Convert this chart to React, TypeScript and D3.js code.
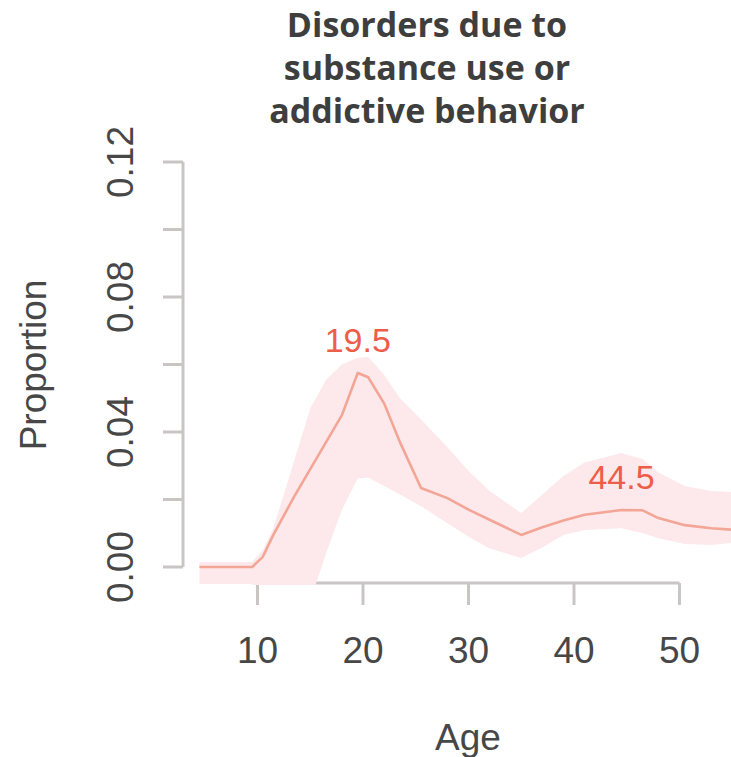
import React from "react";
import * as d3 from "d3";

const titleLines = ["Disorders due to", "substance use or", "addictive behavior"];
const xTicks = [10, 20, 30, 40, 50];
const yTicks = [0, 0.02, 0.04, 0.06, 0.08, 0.1, 0.12];
const yTickLabels = ["0.00", "", "0.04", "", "0.08", "", "0.12"];

const ages = [4.5, 9.5, 10.5, 11.5, 13.5, 15, 16.5, 18, 19.5, 20.5, 22, 23.5, 25.5, 28, 30, 32, 35, 37, 39, 41, 44.5, 46.5, 48, 50.5, 53, 56];
const meanVals = [0, 0, 0.003, 0.0095, 0.021, 0.029, 0.037, 0.045, 0.0575, 0.0562, 0.0485, 0.037, 0.0234, 0.0204, 0.017, 0.014, 0.0095, 0.0118, 0.0138, 0.0155, 0.0169, 0.0168, 0.0145, 0.0124, 0.0115, 0.0108];
const upperVals = [0.0015, 0.0015, 0.005, 0.0115, 0.0317, 0.047, 0.0555, 0.06, 0.062, 0.0622, 0.057, 0.05, 0.0437, 0.0355, 0.0285, 0.0225, 0.016, 0.0215, 0.027, 0.031, 0.0338, 0.032, 0.028, 0.024, 0.0225, 0.022];
const lowerVals = [-0.005, -0.005, -0.02, -0.03, -0.025, -0.01, 0.004, 0.017, 0.0262, 0.0265, 0.024, 0.0215, 0.018, 0.013, 0.009, 0.0055, 0.0027, 0.0058, 0.0095, 0.011, 0.0115, 0.01, 0.0085, 0.0068, 0.0065, 0.0075];
const peakAges = [19.5, 44.5];
const peakLabels = ["19.5", "44.5"];

const W = 731;
const H = 757;

export default function App() {
  const x = d3.scaleLinear().domain([10, 50]).range([257.5, 679.5]);
  const y = d3.scaleLinear().domain([0, 0.12]).range([567, 162]);
  const plotLeft = 183;
  const plotBottom = 585;

  const rows = ages.map((a, i) => ({ a, m: meanVals[i], lo: lowerVals[i], hi: upperVals[i] }));
  const area = d3
    .area<any>()
    .x((d) => x(d.a))
    .y0((d) => y(d.lo))
    .y1((d) => y(d.hi));
  const line = d3
    .line<any>()
    .x((d) => x(d.a))
    .y((d) => y(d.m));

  const axisColor = "#c9c5c5";
  const textColor = "#474747";
  const font = "'Liberation Sans', Arial, sans-serif";

  return (
    <svg
      width={W}
      height={H}
      style={{ position: "absolute", left: 0, top: 0, background: "#fff" }}
    >
      <defs>
        <clipPath id="plotclip">
          <rect x={plotLeft} y={130} width={W - plotLeft + 20} height={plotBottom - 130} />
        </clipPath>
      </defs>
      <rect x={0} y={0} width={W} height={H} fill="#fff" />
      {titleLines.map((t, i) => (
        <text
          key={t}
          x={427}
          y={37 + i * 43}
          textAnchor="middle"
          fontFamily="'Open Sans', sans-serif"
          fontWeight={700}
          fontSize={34}
          fill="#3e3e3e"
        >
          {t}
        </text>
      ))}
      {/* y axis */}
      <line x1={plotLeft} x2={plotLeft} y1={y(0.12)} y2={y(0)} stroke={axisColor} strokeWidth={3} />
      {yTicks.map((t, i) => (
        <g key={t}>
          <line x1={plotLeft - 20} x2={plotLeft} y1={y(t)} y2={y(t)} stroke={axisColor} strokeWidth={3} />
          {yTickLabels[i] && (
            <text
              transform={`translate(133,${y(t)}) rotate(-90)`}
              textAnchor="middle"
              fontFamily={font}
              fontSize={37}
              fill={textColor}
            >
              {yTickLabels[i]}
            </text>
          )}
        </g>
      ))}
      {/* x axis */}
      <line x1={x(10)} x2={x(50)} y1={583} y2={583} stroke={axisColor} strokeWidth={3} />
      {xTicks.map((t) => (
        <g key={t}>
          <line x1={x(t)} x2={x(t)} y1={583} y2={605} stroke={axisColor} strokeWidth={3} />
          <text x={x(t)} y={663} textAnchor="middle" fontFamily={font} fontSize={37} fill={textColor}>
            {t}
          </text>
        </g>
      ))}
      <text x={468} y={750} textAnchor="middle" fontFamily={font} fontSize={37} fill={textColor}>
        Age
      </text>
      <text
        transform={`translate(46,365) rotate(-90)`}
        textAnchor="middle"
        fontFamily={font}
        fontSize={37}
        fill={textColor}
      >
        Proportion
      </text>
      <g clipPath="url(#plotclip)">
        <path d={area(rows) || ""} fill="#fde9eb" stroke="none" />
        <path d={line(rows) || ""} fill="none" stroke="#f3a596" strokeWidth={2.6} strokeLinejoin="round" />
      </g>
      {peakAges.map((a, i) => {
        const idx = ages.indexOf(a);
        return (
          <text
            key={a}
            x={x(a)}
            y={y(meanVals[idx]) - 21}
            textAnchor="middle"
            fontFamily={font}
            fontSize={34}
            fill="#ee5c4a"
          >
            {peakLabels[i]}
          </text>
        );
      })}
    </svg>
  );
}
